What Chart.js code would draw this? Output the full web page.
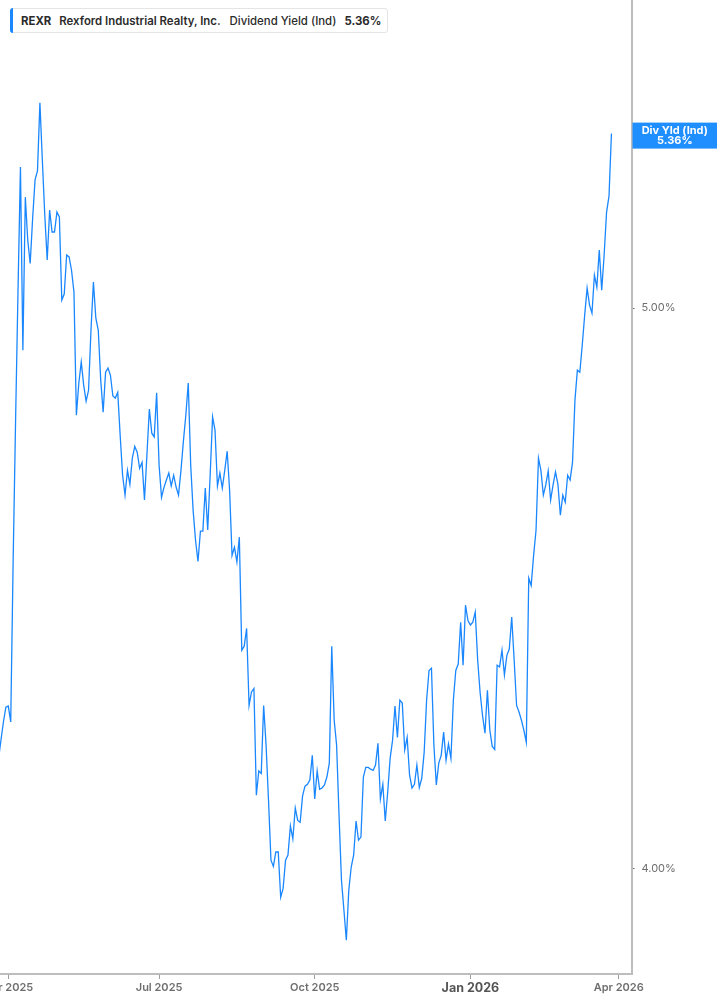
<!DOCTYPE html>
<html><head><meta charset="utf-8">
<script src="https://cdn.jsdelivr.net/npm/chart.js@4.4.1/dist/chart.umd.min.js"></script>
<style>
html,body{margin:0;padding:0;background:#fff;overflow:hidden;width:717px;height:1005px;}
#wrap{position:absolute;left:-60px;top:0;width:777px;height:1005px;}
#hdr{position:absolute;left:10px;top:8px;height:25px;box-sizing:border-box;border:1px solid #e4e4e4;border-radius:3px;background:#fff;font-family:Inter,sans-serif;font-size:11.4px;font-weight:600;color:#2b2b2b;display:flex;align-items:center;padding:0 6px 0 10px;white-space:nowrap;}
#hdr .bar{position:absolute;left:-1px;top:-1px;bottom:-1px;width:3px;background:#1a87ff;border-radius:3px 0 0 3px;}
#hdr .t{margin-right:8px;font-weight:700;}
#hdr .n{margin-right:9px;font-weight:600;}
#hdr .m{margin-right:8px;font-weight:500;}
#hdr .v{font-weight:700;}
</style></head>
<body>
<div id="wrap"><canvas id="c" width="777" height="1005"></canvas></div>
<div id="hdr"><span class="bar"></span><span class="t" id="h1"></span><span class="n" id="h2"></span><span class="m" id="h3"></span><span class="v" id="h4"></span></div>
<script>
const ticker = 'REXR';
const companyName = 'Rexford Industrial Realty, Inc.';
const metricName = 'Dividend Yield (Ind)';
const badgeTitle = 'Div Yld (Ind)';
// trading-day index of first value (0 = 1 Apr 2025)
const firstDay = -4;
const yieldPct = [
 4.179,4.210,4.240,4.265,4.267,4.240,4.522,4.782,5.036,5.289,
 4.917,5.226,5.137,5.090,5.181,5.262,5.281,5.426,5.304,5.189,
 5.097,5.199,5.154,5.154,5.195,5.185,5.016,5.028,5.107,5.103,
 5.076,5.032,4.791,4.853,4.894,4.849,4.818,4.839,4.956,5.052,
 4.980,4.956,4.859,4.797,4.874,4.882,4.868,4.828,4.824,4.835,
 4.753,4.678,4.641,4.687,4.661,4.710,4.732,4.721,4.691,4.702,
 4.632,4.716,4.803,4.757,4.750,4.834,4.697,4.637,4.655,4.669,
 4.682,4.658,4.678,4.656,4.641,4.687,4.742,4.791,4.853,4.697,
 4.613,4.558,4.520,4.575,4.575,4.654,4.577,4.678,4.788,4.763,
 4.658,4.682,4.654,4.687,4.723,4.650,4.531,4.546,4.519,4.564,
 4.363,4.370,4.401,4.268,4.291,4.297,4.118,4.158,4.154,4.268,
 4.201,4.110,4.013,4.003,4.026,4.026,3.954,3.968,4.013,4.021,
 4.068,4.047,4.097,4.077,4.074,4.117,4.133,4.136,4.143,4.184,
 4.112,4.158,4.128,4.130,4.135,4.148,4.171,4.370,4.243,4.201,
 4.085,3.981,3.934,3.887,3.965,4.002,4.021,4.076,4.045,4.050,
 4.148,4.164,4.164,4.161,4.159,4.168,4.204,4.112,4.136,4.076,
 4.123,4.179,4.209,4.267,4.214,4.277,4.272,4.193,4.214,4.151,
 4.130,4.136,4.168,4.131,4.146,4.189,4.277,4.328,4.332,4.201,
 4.135,4.171,4.184,4.223,4.176,4.203,4.179,4.277,4.328,4.339,
 4.412,4.337,4.442,4.415,4.407,4.412,4.430,4.346,4.290,4.251,
 4.221,4.294,4.226,4.199,4.194,4.337,4.334,4.363,4.320,4.354,
 4.365,4.421,4.346,4.268,4.257,4.243,4.226,4.206,4.490,4.477,
 4.531,4.577,4.710,4.687,4.641,4.660,4.686,4.632,4.660,4.684,
 4.661,4.604,4.641,4.628,4.678,4.669,4.702,4.820,4.878,4.874,
 4.927,4.986,5.040,5.006,4.990,5.066,5.042,5.117,5.036,5.107,
 5.195,5.228,5.36
];
const xTickDays = [0, 62, 126, 190, 251];
const xTickLabels = ['Apr 2025', 'Jul 2025', 'Oct 2025', 'Jan 2026', 'Apr 2026'];
const boldTickLabel = 'Jan 2026';
const yTickValues = [4, 5];
const xRange = [-3.41, 256.25];
const yRange = [3.835, 5.653];

const lastVal = yieldPct[yieldPct.length - 1];
const fmt = v => v.toFixed(2) + '%';
document.getElementById('h1').textContent = ticker;
document.getElementById('h2').textContent = companyName;
document.getElementById('h3').textContent = metricName;
document.getElementById('h4').textContent = fmt(lastVal);

const points = yieldPct.map((v, k) => ({x: firstDay + k, y: v}));
const BLUE = '#1a87ff';

const badge = {
  id: 'badge',
  afterDraw(chart) {
    const {ctx, chartArea, scales} = chart;
    const y = scales.y.getPixelForValue(lastVal);
    const x0 = chartArea.right + 1;
    const w = chart.width - x0;
    ctx.save();
    ctx.fillStyle = '#1f8fff';
    ctx.fillRect(x0, y - 11, w, 26);
    ctx.fillStyle = '#fff';
    ctx.font = '700 11px Inter, sans-serif';
    ctx.textAlign = 'center';
    ctx.textBaseline = 'middle';
    ctx.fillText(badgeTitle, x0 + w / 2, y - 3);
    ctx.fillText(fmt(lastVal), x0 + w / 2, y + 7.5);
    ctx.restore();
  }
};

new Chart(document.getElementById('c'), {
  type: 'line',
  data: { datasets: [{
    data: points,
    borderColor: BLUE,
    borderWidth: 1.3,
    pointRadius: 0,
    tension: 0,
    fill: false
  }]},
  options: {
    responsive: false,
    animation: false,
    devicePixelRatio: 1,
    layout: { padding: { left: 60, top: 0, right: 0, bottom: 0 } },
    plugins: { legend: { display: false }, tooltip: { enabled: false } },
    scales: {
      x: {
        type: 'linear',
        position: 'bottom',
        bounds: 'data',
        min: xRange[0], max: xRange[1],
        afterBuildTicks: s => { s.ticks = xTickDays.map(v => ({value: v})); },
        afterFit: s => { s.height = 31; s.paddingLeft = 0; s.paddingRight = 0; },
        grid: { drawOnChartArea: false, drawTicks: true, tickLength: 5, color: '#9e9e9e', lineWidth: 1 },
        border: { display: true, color: '#bdbdbd', width: 2 },
        ticks: {
          autoSkip: false, maxRotation: 0, minRotation: 0, padding: 2,
          callback: v => xTickLabels[xTickDays.indexOf(v)],
          color: ctx => (ctx.tick && ctx.tick.label === boldTickLabel) ? '#555' : '#6e6e6e',
          font: ctx => (ctx.tick && ctx.tick.label === boldTickLabel)
            ? { family: 'Inter, sans-serif', size: 12.5, weight: '700' }
            : { family: 'Inter, sans-serif', size: 11, weight: '600' }
        }
      },
      y: {
        type: 'logarithmic',
        position: 'right',
        bounds: 'data',
        min: yRange[0], max: yRange[1],
        afterBuildTicks: s => { s.ticks = yTickValues.map(v => ({value: v})); },
        afterFit: s => { s.width = 85.5; s.paddingTop = 0; s.paddingBottom = 0; },
        grid: { drawOnChartArea: false, drawTicks: true, tickLength: 3, color: '#666', lineWidth: 1 },
        border: { display: true, color: '#bdbdbd', width: 2 },
        ticks: {
          padding: 7,
          callback: v => fmt(v),
          color: '#6e6e6e',
          font: { family: 'Inter, sans-serif', size: 11, weight: '400' }
        }
      }
    }
  },
  plugins: [badge]
});
</script>
</body></html>
